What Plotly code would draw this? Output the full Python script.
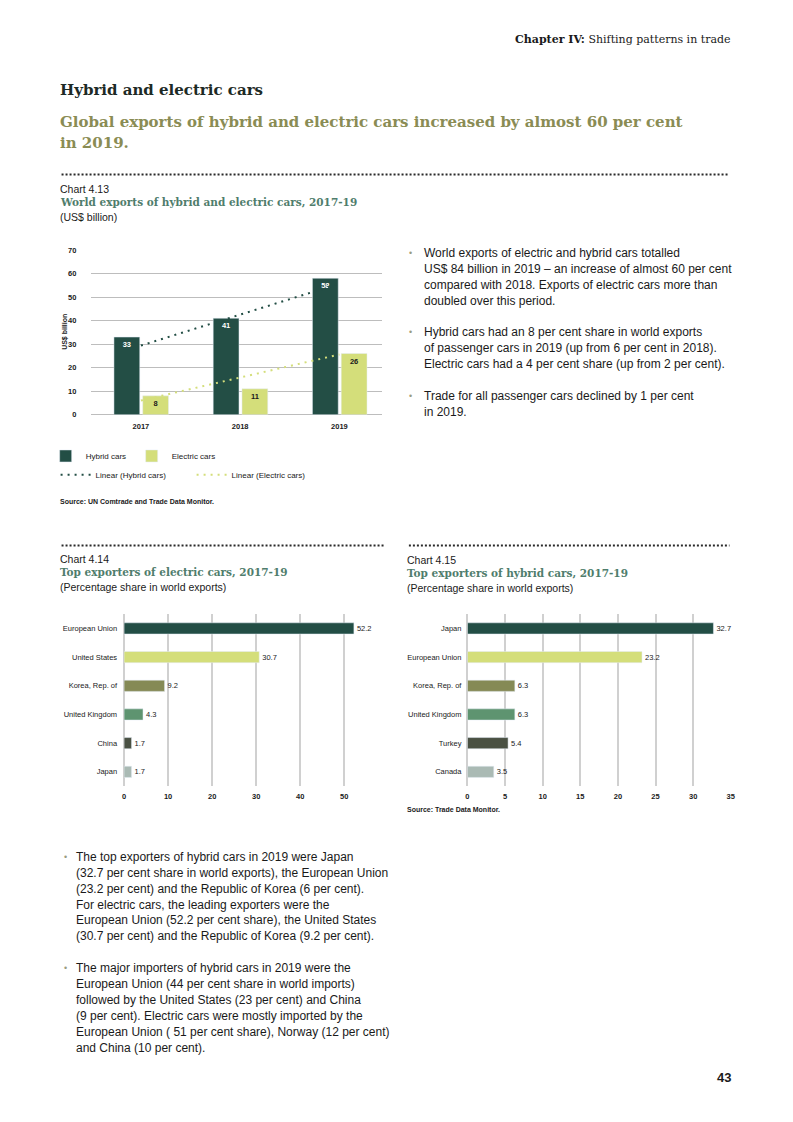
import plotly.graph_objects as go

W, H = 793, 1122
def px(x): return x / W
def py(y): return 1 - y / H

# ---------------- data ----------------
years = ["2017", "2018", "2019"]
hybrid = [33, 41, 58]
electric = [8, 11, 26]
trend_hybrid = [29.4, 42.6, 55.7]
trend_electric = [6.0, 15.8, 25.6]

ev_countries = ["European Union", "United States", "Korea, Rep. of", "United Kingdom", "China", "Japan"]
ev_share = [52.2, 30.7, 9.2, 4.3, 1.7, 1.7]

hy_countries = ["Japan", "European Union", "Korea, Rep. of", "United Kingdom", "Turkey", "Canada"]
hy_share = [32.7, 23.2, 6.3, 6.3, 5.4, 3.5]

y_ticks_413 = [0, 10, 20, 30, 40, 50, 60, 70]

# ---------------- styles ----------------
DARK = "#234E45"
LIME = "#D4DE7A"
OLIVE = "#858A55"
GREEN = "#5E9470"
CHAR = "#4A5143"
LGREY = "#AABAB4"
TXT = "#1a1a1a"
SANS = "Liberation Sans, Arial, sans-serif"
SLAB = "DejaVu Serif, serif"
TITLE_GREEN = "#4F7D6C"

ev_colors = [DARK, LIME, OLIVE, GREEN, CHAR, LGREY]
hy_colors = [DARK, LIME, OLIVE, GREEN, CHAR, LGREY]

fig = go.Figure()

# Chart 4.13
fig.add_trace(go.Bar(
    x=years, y=hybrid, name="Hybrid cars", xaxis="x", yaxis="y",
    width=0.26, offset=-0.272, marker=dict(color=DARK),
    text=hybrid, textposition="inside", insidetextanchor="end", textangle=0,
    textfont=dict(family=SANS, size=7.5, color="white", weight="bold"),
    legend="legend", hoverinfo="skip"))
fig.add_trace(go.Bar(
    x=years, y=electric, name="Electric cars", xaxis="x", yaxis="y",
    width=0.26, offset=0.018, marker=dict(color=LIME),
    text=electric, textposition="inside", insidetextanchor="end", textangle=0,
    textfont=dict(family=SANS, size=7.5, color=TXT, weight="bold"),
    legend="legend", hoverinfo="skip"))
fig.add_trace(go.Scatter(
    x=years, y=trend_hybrid, name="Linear (Hybrid cars)", mode="lines",
    xaxis="x", yaxis="y", line=dict(color=DARK, width=2, dash="2px,5px"),
    legend="legend2", hoverinfo="skip"))
fig.add_trace(go.Scatter(
    x=years, y=trend_electric, name="Linear (Electric cars)", mode="lines",
    xaxis="x", yaxis="y", line=dict(color=LIME, width=2, dash="2px,5px"),
    legend="legend2", hoverinfo="skip"))

# Chart 4.14
fig.add_trace(go.Bar(
    x=ev_share, y=ev_countries, orientation="h", xaxis="x2", yaxis="y2",
    width=0.39, marker=dict(color=ev_colors),
    text=ev_share, texttemplate="%{x:.1f}", textposition="outside",
    textfont=dict(family=SANS, size=7.5, color=TXT), cliponaxis=False,
    showlegend=False, hoverinfo="skip"))

# Chart 4.15
fig.add_trace(go.Bar(
    x=hy_share, y=hy_countries, orientation="h", xaxis="x3", yaxis="y3",
    width=0.39, marker=dict(color=hy_colors),
    text=hy_share, texttemplate="%{x:.1f}", textposition="outside",
    textfont=dict(family=SANS, size=7.5, color=TXT), cliponaxis=False,
    showlegend=False, hoverinfo="skip"))

tickf = dict(family=SANS, size=7.5, color=TXT, weight="bold")
catf = dict(family=SANS, size=7.5, color=TXT)

fig.update_layout(
    width=W, height=H, margin=dict(l=0, r=0, t=0, b=0),
    paper_bgcolor="white", plot_bgcolor="white",
    barmode="overlay", showlegend=True,
    xaxis=dict(domain=[px(90), px(383)], anchor="y", type="category",
               range=[-0.5, 2.43], showgrid=False, zeroline=False, showline=False,
               ticks="", tickfont=tickf, ticklabelstandoff=6),
    yaxis=dict(domain=[py(414), py(248)], anchor="x", range=[0, 70],
               tickvals=y_ticks_413, showgrid=True, gridcolor="#bdbdbd", gridwidth=1,
               zeroline=True, zerolinecolor="#bdbdbd", zerolinewidth=1,
               showline=False, ticks="", tickfont=tickf, ticklabelstandoff=14),
    xaxis2=dict(domain=[px(123), px(367)], anchor="y2", range=[0, 55], dtick=10,
                showgrid=True, gridcolor="#d0d0d0", gridwidth=2,
                zeroline=True, zerolinecolor="#d0d0d0", zerolinewidth=2,
                showline=False, ticks="", tickfont=tickf, ticklabelstandoff=4),
    yaxis2=dict(domain=[py(788.5), py(615)], anchor="x2", type="category",
                categoryorder="array", categoryarray=ev_countries, autorange="reversed",
                showgrid=False, zeroline=False, showline=False, ticks="",
                tickfont=catf, ticklabelstandoff=6),
    xaxis3=dict(domain=[px(469), px(734.3)], anchor="y3", range=[0, 35], dtick=5,
                showgrid=True, gridcolor="#d0d0d0", gridwidth=2,
                zeroline=True, zerolinecolor="#d0d0d0", zerolinewidth=2,
                showline=False, ticks="", tickfont=tickf, ticklabelstandoff=4),
    yaxis3=dict(domain=[py(788.5), py(615)], anchor="x3", type="category",
                categoryorder="array", categoryarray=hy_countries, autorange="reversed",
                showgrid=False, zeroline=False, showline=False, ticks="",
                tickfont=catf, ticklabelstandoff=5),
    legend=dict(x=px(44), y=py(441), xanchor="left", yanchor="top",
                orientation="h", entrywidth=41, entrywidthmode="pixels",
                font=dict(family=SANS, size=8, color=TXT),
                bgcolor="rgba(0,0,0,0)", borderwidth=0, traceorder="normal"),
    legend2=dict(x=px(54), y=py(460), xanchor="left", yanchor="top",
                 orientation="h", entrywidth=91, entrywidthmode="pixels",
                 font=dict(family=SANS, size=8, color=TXT),
                 bgcolor="rgba(0,0,0,0)", borderwidth=0, traceorder="normal"),
)

anns = []
def ann(x, y, text, size=11, color=TXT, family=SANS, xanchor="left", weight="normal", angle=0):
    dx = -3 if xanchor == "left" else (3 if xanchor == "right" else 0)
    anns.append(dict(x=px(x + dx), y=py(y), xref="paper", yref="paper", text=text,
                     showarrow=False, xanchor=xanchor, yanchor="middle", textangle=angle,
                     borderpad=0,
                     font=dict(family=family, size=size, color=color, weight=weight)))

# header
ann(733, 36, "<b>Chapter IV:</b> Shifting patterns in trade", size=11, family=SLAB, xanchor="right")
ann(60, 87, "<b>Hybrid and electric cars</b>", size=15, family=SLAB, color="#1d2a25")
ann(60, 119, "<b>Global exports of hybrid and electric cars increased by almost 60 per cent</b>",
    size=15, family=SLAB, color="#8A8C54")
ann(60, 140, "<b>in 2019.</b>", size=15, family=SLAB, color="#8A8C54")

# chart 4.13 headers
ann(60, 187, "Chart 4.13", size=10.5)
ann(60, 200, "<b>World exports of hybrid and electric cars, 2017-19</b>", size=10.5, family=SLAB, color=TITLE_GREEN)
ann(60, 215, "(US$ billion)", size=10.5)
ann(64, 331, "US$ billion", size=7, angle=-90, xanchor="center", weight="bold")
ann(60, 502, "Source: UN Comtrade and Trade Data Monitor.", size=7, weight="bold")

# chart 4.14 headers
ann(60, 559, "Chart 4.14", size=10.5)
ann(60, 573, "<b>Top exporters of electric cars, 2017-19</b>", size=10.5, family=SLAB, color=TITLE_GREEN)
ann(60, 588, "(Percentage share in world exports)", size=10.5)

# chart 4.15 headers
ann(410, 560, "Chart 4.15", size=10.5)
ann(410, 574, "<b>Top exporters of hybrid cars, 2017-19</b>", size=10.5, family=SLAB, color=TITLE_GREEN)
ann(410, 589, "(Percentage share in world exports)", size=10.5)
ann(410, 812, "Source: Trade Data Monitor.", size=7, weight="bold")

# right-column bullets
right_paras = [
    (251, ["World exports of electric and hybrid cars totalled",
           "US$ 84 billion in 2019 – an increase of almost 60 per cent",
           "compared with 2018. Exports of electric cars more than",
           "doubled over this period."]),
    (331, ["Hybrid cars had an 8 per cent share in world exports",
           "of passenger cars in 2019 (up from 6 per cent in 2018).",
           "Electric cars had a 4 per cent share (up from 2 per cent)."]),
    (395, ["Trade for all passenger cars declined by 1 per cent",
           "in 2019."]),
]
bottom_paras = [
    (859.5, ["The top exporters of hybrid cars in 2019 were Japan",
             "(32.7 per cent share in world exports), the European Union",
             "(23.2 per cent) and the Republic of Korea (6 per cent).",
             "For electric cars, the leading exporters were the",
             "European Union (52.2 per cent share), the United States",
             "(30.7 per cent) and the Republic of Korea (9.2 per cent)."]),
    (972, ["The major importers of hybrid cars in 2019 were the",
           "European Union (44 per cent share in world imports)",
           "followed by the United States (23 per cent) and China",
           "(9 per cent). Electric cars were mostly imported by the",
           "European Union ( 51 per cent share), Norway (12 per cent)",
           "and China (10 per cent)."]),
]
LINE = 16.1
for (y0, lines) in right_paras:
    ann(412, y0, "•", size=9, color="#9a9c80")
    for i, t in enumerate(lines):
        ann(427, y0 + i * LINE, t, size=12)
for (y0, lines) in bottom_paras:
    ann(64, y0, "•", size=9, color="#9a9c80")
    for i, t in enumerate(lines):
        ann(77, y0 + i * LINE, t, size=12)

ann(733, 1082, "<b>43</b>", size=13, xanchor="right")

fig.update_layout(annotations=anns)

# dotted separators
shapes = []
for (x0, x1, y) in [(60, 733, 172), (60, 385, 546), (410, 733, 546)]:
    shapes.append(dict(type="line", xref="paper", yref="paper",
                       x0=px(x0), x1=px(x1), y0=py(y), y1=py(y),
                       line=dict(color="#2a2a2a", width=2, dash="2px,2px")))
fig.update_layout(shapes=shapes)

fig.write_html("out.html", config={"displayModeBar": False},
               post_script="document.body.style.margin='0';document.body.style.overflow='hidden';")
